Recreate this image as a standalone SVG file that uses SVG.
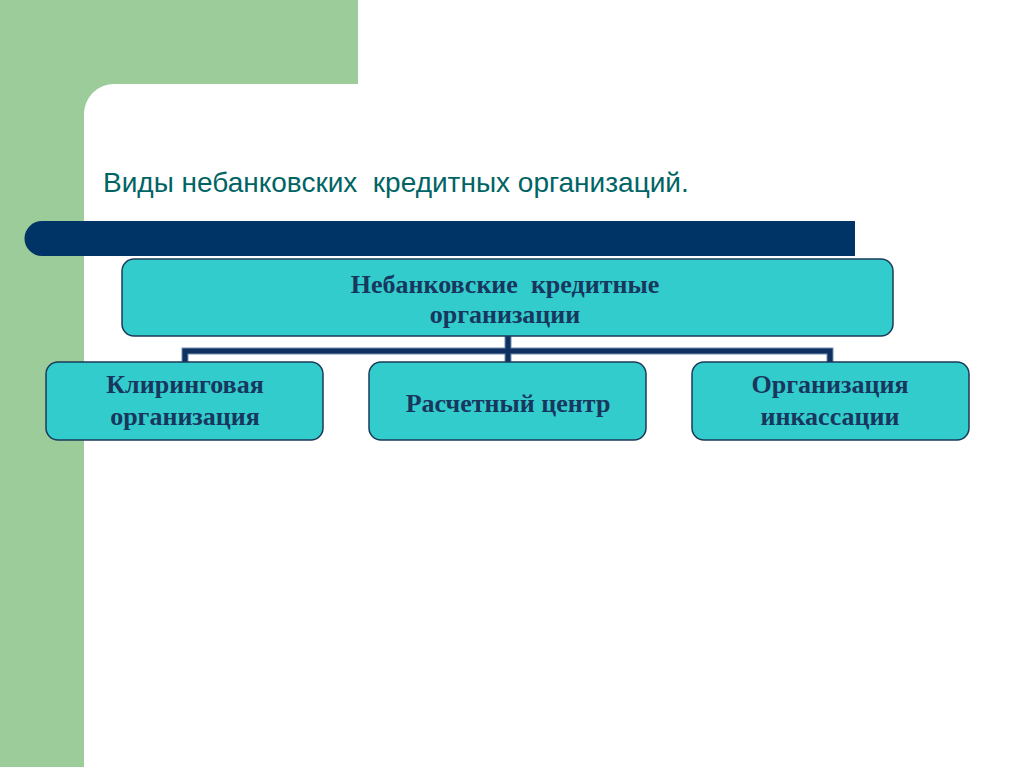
<svg xmlns="http://www.w3.org/2000/svg" width="1024" height="767" viewBox="0 0 1024 767">
<style>
.box{fill:#33CCCC;stroke:#1b3a5a;stroke-width:1.5}
.t{font-family:"Liberation Serif",serif;font-weight:bold;font-size:26px;fill:#17375e;text-anchor:middle;white-space:pre}
.conn{stroke:#0f3060;stroke-width:5;fill:none}
.connb{stroke:#6f8fb0;stroke-width:7;fill:none}
</style>
<rect x="0" y="0" width="1024" height="767" fill="#ffffff"/>
<path d="M0 0H358V84H114A30 30 0 0 0 84 114V767H0Z" fill="#9ccc99"/>
<text x="103" y="192" font-family="Liberation Sans, sans-serif" font-size="28" fill="#006464" style="white-space:pre">Виды небанковских  кредитных организаций.</text>
<path d="M42 221H855V256H42A17.5 17.5 0 0 1 42 221Z" fill="#003366"/>
<g id="connectors">
<path class="connb" d="M508 336V351M185 362V351H830V362M508 351V362"/>
<path class="conn" d="M508 336V351M185 362V351H830V362M508 351V362"/>
</g>
<g id="root">
<rect class="box" x="122" y="259" width="771" height="77" rx="12"/>
<text class="t" x="505" y="293">Небанковские  кредитные</text>
<text class="t" x="505" y="323">организации</text>
</g>
<g id="clearing">
<rect class="box" x="46" y="362" width="277" height="78" rx="12"/>
<text class="t" x="185" y="393">Клиринговая</text>
<text class="t" x="185" y="425">организация</text>
</g>
<g id="settlement">
<rect class="box" x="369" y="362" width="277" height="78" rx="12"/>
<text class="t" x="508" y="412">Расчетный центр</text>
</g>
<g id="collection">
<rect class="box" x="692" y="362" width="277" height="78" rx="12"/>
<text class="t" x="830" y="393">Организация</text>
<text class="t" x="830" y="425">инкассации</text>
</g>
</svg>
